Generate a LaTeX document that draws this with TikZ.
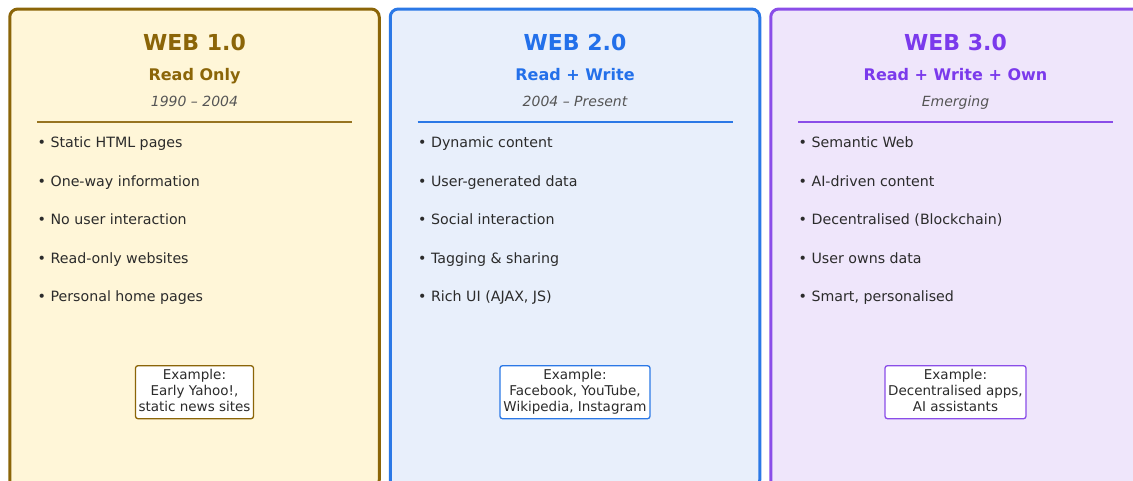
\documentclass[tikz,border=0pt]{standalone}
\usepackage{fontspec}
\setmainfont{DejaVu Sans}
\definecolor{oneborder}{HTML}{8B6508}
\definecolor{onefill}{HTML}{FFF6D8}
\definecolor{twoborder}{HTML}{2B78E6}
\definecolor{twotitle}{HTML}{2370EA}
\definecolor{twofill}{HTML}{E8EFFB}
\definecolor{threeborder}{HTML}{8A4DE8}
\definecolor{threetitle}{HTML}{7B3AEC}
\definecolor{threefill}{HTML}{EFE6FB}
\definecolor{bodytext}{HTML}{2B2B2B}
\definecolor{datetext}{HTML}{555555}
\tikzset{
  panelbox/.style={line width=3pt, rounded corners=8pt},
  titletext/.style={anchor=base, inner sep=0pt, font=\fontsize{22}{26}\selectfont\bfseries},
  subtext/.style={anchor=base, inner sep=0pt, font=\fontsize{16}{19}\selectfont\bfseries},
  datestyle/.style={anchor=base, inner sep=0pt, text=datetext, font=\fontsize{14}{17}\selectfont\itshape},
  divider/.style={line width=1.5pt},
  itemtext/.style={anchor=base west, inner sep=0pt, text=bodytext, font=\fontsize{14.2}{17}\selectfont},
  examplebox/.style={fill=white, line width=1.3pt, rounded corners=2.5pt, minimum height=53pt},
  exampletext/.style={anchor=base, inner sep=0pt, align=center, text=bodytext, font=\fontsize{13.5}{16}\selectfont},
}
\begin{document}
\begin{tikzpicture}[x=1pt, y=-1pt]
\useasboundingbox (0,0) rectangle (1133,480);
\clip (0,0) rectangle (1133,480);

% ---- Web 1.0 ----
\draw[panelbox, draw=oneborder, fill=onefill] (9.75,9) rectangle (379.25,488);
\node[titletext, text=oneborder] (t1) at (194.5,50) {WEB 1.0};
\node[subtext, text=oneborder] (s1) at (194.5,80) {Read Only};
\node[datestyle] (d1) at (194.5,106) {1990 – 2004};
\coordinate (l1a) at (37,122);
\coordinate (l1b) at (352,122);
\draw[divider, draw=oneborder!90] (l1a) -- (l1b);
\node[itemtext] (a1) at (37.5,147.3) {• Static HTML pages};
\node[itemtext] (b1) at (37.5,186) {• One-way information};
\node[itemtext] (c1) at (37.5,224.7) {• No user interaction};
\node[itemtext] (e1) at (37.5,263.3) {• Read-only websites};
\node[itemtext] (f1) at (37.5,301.7) {• Personal home pages};
\node[examplebox, draw=oneborder, minimum width=118pt] (x1) at (194.5,392.2) {};
\node[exampletext] (y1) at (194.5,411.7) {Example:\\Early Yahoo!,\\static news sites};

% ---- Web 2.0 ----
\draw[panelbox, draw=twoborder, fill=twofill] (390.25,9) rectangle (759.75,488);
\node[titletext, text=twotitle] (t2) at (575,50) {WEB 2.0};
\node[subtext, text=twotitle] (s2) at (575,80) {Read + Write};
\node[datestyle] (d2) at (575,106) {2004 – Present};
\coordinate (l2a) at (417.5,122);
\coordinate (l2b) at (732.5,122);
\draw[divider, draw=twoborder] (l2a) -- (l2b);
\node[itemtext] (a2) at (418,147.3) {• Dynamic content};
\node[itemtext] (b2) at (418,186) {• User-generated data};
\node[itemtext] (c2) at (418,224.7) {• Social interaction};
\node[itemtext] (e2) at (418,263.3) {• Tagging \& sharing};
\node[itemtext] (f2) at (418,301.7) {• Rich UI (AJAX, JS)};
\node[examplebox, draw=twoborder, minimum width=150pt] (x2) at (575,392.2) {};
\node[exampletext] (y2) at (575,411.7) {Example:\\Facebook, YouTube,\\Wikipedia, Instagram};

% ---- Web 3.0 ----
\draw[panelbox, draw=threeborder, fill=threefill] (770.75,9) rectangle (1140.25,488);
\node[titletext, text=threetitle] (t3) at (955.5,50) {WEB 3.0};
\node[subtext, text=threetitle] (s3) at (955.5,80) {Read + Write + Own};
\node[datestyle] (d3) at (955.5,106) {Emerging};
\coordinate (l3a) at (798,122);
\coordinate (l3b) at (1113,122);
\draw[divider, draw=threeborder] (l3a) -- (l3b);
\node[itemtext] (a3) at (798.5,147.3) {• Semantic Web};
\node[itemtext] (b3) at (798.5,186) {• AI-driven content};
\node[itemtext] (c3) at (798.5,224.7) {• Decentralised (Blockchain)};
\node[itemtext] (e3) at (798.5,263.3) {• User owns data};
\node[itemtext] (f3) at (798.5,301.7) {• Smart, personalised};
\node[examplebox, draw=threeborder, minimum width=141pt] (x3) at (955.5,392.2) {};
\node[exampletext] (y3) at (955.5,411.7) {Example:\\Decentralised apps,\\AI assistants};
\end{tikzpicture}
\end{document}
